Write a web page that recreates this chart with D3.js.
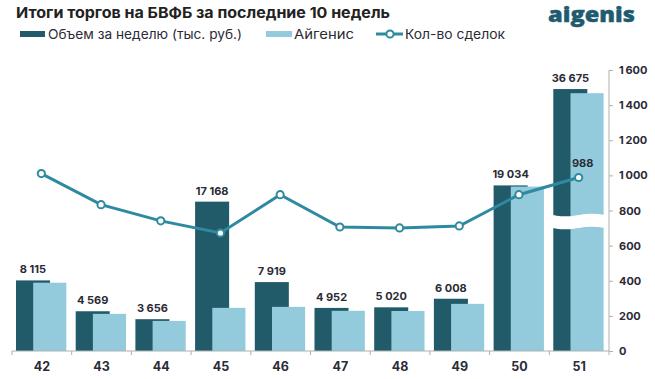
<!DOCTYPE html>
<html><head><meta charset="utf-8">
<script src="https://cdn.jsdelivr.net/npm/d3@7"></script>
<style>body{margin:0;background:#fff;}svg{display:block;font-family:Inter,"Open Sans",sans-serif;}</style>
</head><body>
<svg id="c" width="655" height="379"></svg>
<script>
const weeks = ["42","43","44","45","46","47","48","49","50","51"];
const volume = [8115, 4569, 3656, 17168, 7919, 4952, 5020, 6008, 19034, 36675];
const aigenis = [7850, 4270, 3460, 4960, 5075, 4620, 4600, 5420, 18900, 36200];
const deals = [1010, 833, 741, 672, 890, 706, 701, 712, 890, 988];
const rightTicks = [0, 200, 400, 600, 800, 1000, 1200, 1400, 1600];
const title = "Итоги торгов на БВФБ за последние 10 недель";
const legendNames = ["Объем за неделю (тыс. руб.)", "Айгенис", "Кол-во сделок"];

const C = {dark:"#215a69", light:"#93cbdc", line:"#2e8aa0", text:"#2b2b36", axis:"#b0b0b0"};
const ru = d3.formatLocale({decimal:",", thousands:"\u2009", grouping:[3], currency:["","₽"]});
const fmt = ru.format(",d");
const fmtLbl = d3.formatLocale({decimal:",", thousands:" ", grouping:[3], currency:["",""]}).format(",d");

const svg = d3.select("#c");
const L = 12, R = 609, B = 351, T = 70;
const x = d3.scaleBand().domain(weeks).range([L, R]).padding(0);
const yR = d3.scaleLinear().domain([0, 1600]).range([B, T]);
const yV = d3.scaleLinear().domain([0, 32300]).range([B, T]);
const cap = 30000, breakGap = 6565, breakVal = 15000;
const disp = v => v > cap ? v - breakGap : v;
const bw = x.bandwidth();

// bars
const g = svg.append("g");
weeks.forEach((w, i) => {
  g.append("rect").attr("x", x(w) + bw*0.067).attr("width", bw*0.57)
    .attr("y", yV(disp(volume[i]))).attr("height", yV(0) - yV(disp(volume[i]))).attr("fill", C.dark);
  g.append("rect").attr("x", x(w) + bw*0.355).attr("width", bw*0.555)
    .attr("y", yV(disp(aigenis[i]))).attr("height", yV(0) - yV(disp(aigenis[i]))).attr("fill", C.light);
  if (volume[i] > cap) {
    const x0 = x(w) + bw*0.05, x1 = x(w) + bw*0.93, yc = yV(breakVal) + 1;
    const n = 24, amp = 1.3, h = 6.5;
    const wave = d3.range(n+1).map(k => [x0 + (x1-x0)*k/n, Math.sin(k/n*Math.PI*2)*amp]);
    const top = wave.map(p => [p[0], yc - h + p[1]]);
    const bot = wave.slice().reverse().map(p => [p[0], yc + h + p[1]]);
    g.append("path").attr("d", d3.line()(top.concat(bot)) + "Z").attr("fill", "#fff");
  }
  g.append("text").attr("x", x(w) + bw*0.067 + bw*0.285).attr("y", yV(disp(volume[i])) - 7)
    .attr("text-anchor","middle").attr("font-size", 11).attr("font-weight", 700)
    .attr("fill", C.text).text(fmtLbl(volume[i]));
});

// x axis
const xa = svg.append("g").attr("transform", `translate(0,${B})`);
xa.append("line").attr("x1", L).attr("x2", R).attr("stroke", C.axis);
x.domain().concat(["end"]).forEach((w, i) => {
  const xx = L + i*bw;
  xa.append("line").attr("x1", xx).attr("x2", xx).attr("y1", 0).attr("y2", 4).attr("stroke", C.axis);
});
weeks.forEach(w => xa.append("text").attr("x", x(w) + bw/2).attr("y", 20)
  .attr("text-anchor","middle").attr("font-size", 12.5).attr("font-weight", 700).attr("fill", C.text).text(w));

// right axis
const ra = svg.append("g").attr("transform", `translate(${R},0)`)
  .call(d3.axisRight(yR).tickValues(rightTicks).tickSize(4).tickPadding(6).tickFormat(fmt));
ra.select(".domain").attr("stroke", C.axis).attr("d", `M0,${T}V${B}`);
ra.selectAll(".tick line").attr("stroke", C.axis);
ra.selectAll(".tick text").attr("font-size", 11).attr("font-weight", 700).attr("fill", C.text)
  .attr("font-family", "Inter, 'Open Sans', sans-serif");

// line
const cx = w => x(w) + bw/2 - 0.5;
svg.append("path").datum(deals).attr("fill","none").attr("stroke", C.line).attr("stroke-width", 3)
  .attr("d", d3.line().x((d,i) => cx(weeks[i])).y(d => yR(d)));
svg.selectAll("circle.pt").data(deals).join("circle").attr("class","pt")
  .attr("cx", (d,i) => cx(weeks[i])).attr("cy", d => yR(d)).attr("r", 3.6)
  .attr("fill","#fff").attr("stroke", C.line).attr("stroke-width", 2);
svg.append("text").attr("x", cx(weeks[9]) + 4).attr("y", yR(deals[9]) - 10)
  .attr("text-anchor","middle").attr("font-size", 11).attr("font-weight", 700).attr("fill", C.text).text(deals[9]);

// title
svg.append("text").attr("x", 16).attr("y", 18).attr("font-size", 15).attr("font-weight", 700)
  .attr("fill", "#222").attr("textLength", 374).attr("lengthAdjust","spacingAndGlyphs").text(title);
// logo
svg.append("text").attr("x", 548).attr("y", 21.5).attr("font-size", 20.5).attr("font-weight", 800)
  .attr("font-family","'Open Sans', sans-serif").attr("fill", "#1f5b6e").attr("stroke", "#1f5b6e").attr("stroke-width", 0.4)
  .attr("textLength", 87).attr("lengthAdjust","spacingAndGlyphs").text("aigenis");

// legend
const lg = svg.append("g");
lg.append("rect").attr("x", 20).attr("y", 31).attr("width", 25).attr("height", 6).attr("fill", C.dark);
lg.append("text").attr("x", 48).attr("y", 38.5).attr("font-size", 13).attr("fill", C.text)
  .attr("textLength", 194).attr("lengthAdjust","spacingAndGlyphs").text(legendNames[0]);
lg.append("rect").attr("x", 266).attr("y", 31).attr("width", 26).attr("height", 6).attr("fill", C.light);
lg.append("text").attr("x", 294).attr("y", 38.5).attr("font-size", 13).attr("fill", C.text)
  .attr("textLength", 60).attr("lengthAdjust","spacingAndGlyphs").text(legendNames[1]);
lg.append("line").attr("x1", 376).attr("x2", 403).attr("y1", 34).attr("y2", 34).attr("stroke", C.line).attr("stroke-width", 3);
lg.append("circle").attr("cx", 390).attr("cy", 34).attr("r", 3.6).attr("fill","#fff").attr("stroke", C.line).attr("stroke-width", 2);
lg.append("text").attr("x", 405).attr("y", 38.5).attr("font-size", 13).attr("fill", C.text)
  .attr("textLength", 100).attr("lengthAdjust","spacingAndGlyphs").text(legendNames[2]);
</script>
</body></html>
